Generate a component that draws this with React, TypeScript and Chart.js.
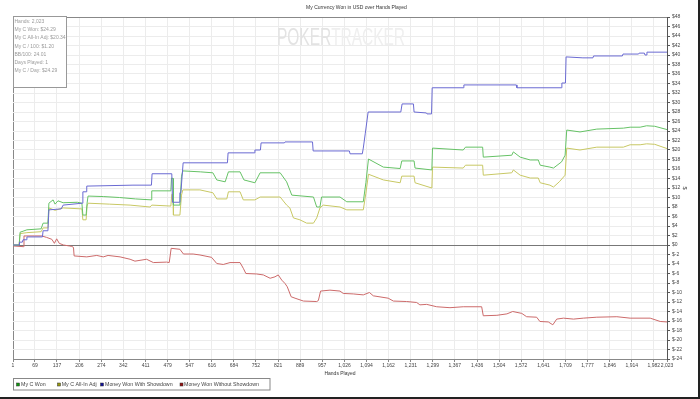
import React, { useEffect, useRef } from "react";
import { Chart, registerables } from "chart.js";

Chart.register(...registerables);

const FONT = "'Liberation Sans', Arial, sans-serif";

const TITLE = "My Currency Won in USD over Hands Played";
const X_TITLE = "Hands Played";
const Y_TITLE = "$";

const X_TICKS = [1, 69, 137, 206, 274, 342, 411, 479, 547, 616, 684, 752, 821, 889, 957, 1026, 1094, 1162, 1231, 1299, 1367, 1436, 1504, 1572, 1641, 1709, 1777, 1846, 1914, 1982, 2023];
const Y_TICKS = [48, 46, 44, 42, 40, 38, 36, 34, 32, 30, 28, 26, 24, 22, 20, 18, 16, 14, 12, 10, 8, 6, 4, 2, 0, -2, -4, -6, -8, -10, -12, -14, -16, -18, -20, -22, -24];

const SERIES_NAMES = ["My C Won", "My C All-In Adj", "Money Won With Showdown", "Money Won Without Showdown"];
const LINE_COLORS = ["#66c266", "#c8c864", "#6a6ad2", "#cc6a6a"];
const LEGEND_COLORS = ["#119911", "#999911", "#111199", "#991111"];

const INFO_LINES = [
  "Hands: 2,023",
  "My C Won: $24.29",
  "My C All-In Adj: $20.34",
  "My C / 100: $1.20",
  "BB/100: 24.01",
  "Days Played: 1",
  "My C / Day: $24.29",
];

// My C Won
const WON_X = [1, 20, 23, 32, 44, 88, 94, 109, 112, 125, 131, 140, 156, 200, 214, 217, 227, 230, 233, 280, 330, 380, 429, 430, 489, 491, 496, 497, 517, 522, 526, 580, 619, 631, 657, 667, 703, 715, 749, 765, 827, 847, 863, 930, 940, 950, 955, 1012, 1033, 1084, 1092, 1100, 1146, 1198, 1203, 1241, 1244, 1296, 1298, 1393, 1400, 1453, 1455, 1543, 1548, 1569, 1600, 1625, 1631, 1661, 1672, 1697, 1708, 1713, 1754, 1806, 1888, 1909, 1940, 1960, 1985, 2023];
const WON_Y = [0, 0, 2.7, 2.9, 3.2, 3.4, 4.6, 4.6, 8.8, 9.5, 8.6, 9.3, 8.9, 9.0, 8.8, 6.3, 6.3, 8.8, 10.3, 10.2, 10.0, 9.7, 9.5, 11.4, 11.4, 14.1, 14.0, 8.4, 8.4, 14.5, 15.6, 15.4, 15.2, 13.7, 13.3, 15.4, 15.4, 13.7, 13.1, 15.2, 15.2, 13.3, 10.5, 10.1, 8.0, 8.0, 10.1, 10.1, 9.1, 9.1, 13.1, 18.1, 16.4, 16.1, 17.7, 17.7, 16.2, 15.8, 20.4, 20.0, 20.6, 20.6, 18.5, 18.9, 19.6, 18.5, 17.9, 17.9, 16.8, 16.4, 16.2, 17.5, 18.9, 24.2, 23.8, 24.4, 24.6, 24.8, 24.8, 25.1, 25.0, 24.3];

// My C All-In Adj
const ADJ_X = [1, 20, 23, 44, 88, 94, 109, 112, 131, 156, 214, 217, 227, 230, 233, 300, 363, 425, 430, 489, 492, 496, 497, 517, 522, 526, 579, 619, 631, 662, 667, 703, 713, 749, 765, 827, 847, 857, 868, 888, 909, 930, 940, 950, 960, 1012, 1033, 1084, 1092, 1100, 1146, 1198, 1203, 1241, 1244, 1296, 1298, 1393, 1400, 1453, 1455, 1543, 1548, 1569, 1600, 1625, 1631, 1661, 1672, 1690, 1708, 1713, 1754, 1806, 1888, 1909, 1940, 1960, 1985, 2023];
const ADJ_Y = [0, 0, 2.4, 2.6, 2.8, 3.6, 3.6, 7.8, 7.3, 7.8, 7.6, 5.3, 5.3, 8.2, 8.8, 8.6, 8.4, 8.0, 8.4, 8.2, 10.7, 10.5, 6.3, 6.3, 10.5, 11.6, 11.6, 11.0, 9.7, 9.7, 11.2, 11.2, 9.5, 9.5, 10.1, 10.1, 8.4, 7.8, 5.7, 5.3, 4.6, 4.6, 5.7, 7.8, 8.4, 8.0, 7.4, 7.4, 10.9, 14.9, 13.7, 13.1, 14.5, 14.5, 13.1, 12.0, 16.4, 16.2, 16.8, 16.8, 14.7, 15.2, 15.8, 14.7, 14.1, 14.1, 13.1, 12.6, 12.2, 13.3, 14.7, 20.4, 20.0, 20.6, 20.6, 21.1, 21.1, 21.3, 21.2, 20.3];

// Money Won With Showdown
const SD_X = [1, 20, 21, 30, 32, 42, 44, 92, 94, 109, 112, 150, 156, 215, 217, 227, 229, 372, 429, 431, 492, 494, 515, 517, 520, 527, 664, 666, 747, 749, 766, 768, 840, 842, 927, 929, 1041, 1043, 1081, 1084, 1090, 1099, 1200, 1204, 1239, 1241, 1279, 1281, 1295, 1297, 1393, 1395, 1557, 1559, 1696, 1698, 1709, 1711, 1763, 1794, 1796, 1885, 1887, 1935, 1937, 1953, 1955, 1959, 1961, 2023];
const SD_Y = [0, 0, 0.6, 0.6, 1.1, 1.1, 1.7, 1.7, 3.0, 3.0, 7.4, 7.6, 8.4, 8.8, 11.2, 11.2, 12.4, 12.6, 12.6, 15.0, 15.0, 9.0, 9.0, 11.0, 11.0, 17.3, 17.3, 19.4, 19.4, 20.0, 20.0, 21.5, 21.5, 21.7, 21.7, 19.8, 19.8, 19.2, 19.2, 20.4, 23.4, 28.0, 28.0, 29.7, 29.7, 28.0, 27.8, 27.6, 27.6, 33.1, 33.1, 33.7, 33.7, 33.1, 33.1, 34.1, 34.1, 39.6, 39.4, 39.4, 39.8, 39.8, 40.2, 40.2, 40.4, 40.4, 40.0, 40.0, 40.6, 40.6];

// Money Won Without Showdown
const NSD_X = [1, 33, 35, 90, 105, 121, 129, 136, 144, 157, 175, 183, 188, 190, 229, 260, 280, 295, 332, 363, 378, 414, 435, 476, 484, 490, 517, 528, 558, 579, 615, 631, 651, 672, 703, 713, 721, 754, 775, 796, 811, 821, 832, 842, 849, 861, 873, 899, 940, 945, 952, 981, 1012, 1022, 1053, 1084, 1103, 1115, 1161, 1177, 1218, 1249, 1259, 1280, 1311, 1352, 1393, 1450, 1455, 1497, 1528, 1546, 1574, 1589, 1620, 1630, 1656, 1670, 1682, 1703, 1734, 1764, 1806, 1868, 1909, 1971, 2002, 2023];
const NSD_Y = [-0.2, -0.35, 1.9, 1.9, 1.6, 1.2, 0.35, 1.3, 0.35, 0.0, -0.2, -0.3, -0.5, -2.3, -2.5, -2.2, -2.5, -2.2, -2.5, -3.0, -3.4, -3.0, -3.7, -3.6, -3.7, -0.7, -0.9, -1.9, -1.9, -2.1, -2.6, -3.9, -4.1, -3.7, -3.7, -4.9, -6.0, -6.1, -6.3, -7.0, -6.7, -6.3, -7.4, -8.1, -8.8, -10.9, -11.2, -11.8, -11.9, -11.7, -9.7, -9.5, -9.7, -10.2, -10.3, -10.5, -10.0, -10.7, -11.2, -11.8, -11.9, -12.1, -12.6, -12.5, -13.0, -13.2, -13.0, -13.0, -14.9, -14.8, -14.5, -14.0, -14.4, -15.1, -15.2, -16.1, -16.2, -16.8, -15.6, -15.4, -15.6, -15.4, -15.2, -15.1, -15.4, -15.4, -16.1, -16.2];

const LEGEND_SQUARE_X = [16.5, 57.5, 100.5, 180];
const LEGEND_TEXT_X = [21, 61.7, 105, 184];

const overlay = {
  id: "overlay",
  beforeDatasetsDraw(chart: any) {
    const ctx = chart.ctx;
    ctx.save();
    ctx.font = `23px ${FONT}`;
    ctx.textBaseline = "alphabetic";
    ctx.textAlign = "left";
    const a = "POKER";
    const b = "TRACKER";
    const wa = ctx.measureText(a).width;
    const wb = ctx.measureText(b).width;
    const sx = 128 / (wa + wb);
    ctx.translate(277, 45);
    ctx.scale(sx, 1);
    ctx.fillStyle = "#e3e3e3";
    ctx.fillText(a, 0, 0);
    ctx.fillStyle = "#efefef";
    ctx.fillText(b, wa, 0);
    ctx.restore();
  },
  afterDraw(chart: any) {
    const ctx = chart.ctx;
    ctx.save();
    // info box
    ctx.fillStyle = "#ffffff";
    ctx.fillRect(13, 16, 54, 72);
    ctx.strokeStyle = "#999999";
    ctx.lineWidth = 1;
    ctx.strokeRect(13.5, 16.5, 53, 71);
    ctx.fillStyle = "#9a9a9a";
    ctx.font = `5px ${FONT}`;
    ctx.textBaseline = "middle";
    ctx.textAlign = "left";
    INFO_LINES.forEach((t, i) => ctx.fillText(t, 14.5, 21.7 + i * 8.2));
    // legend
    ctx.strokeStyle = "#888888";
    ctx.strokeRect(13.5, 378.5, 256.5, 11.5);
    ctx.font = `5.3px ${FONT}`;
    SERIES_NAMES.forEach((name, i) => {
      ctx.fillStyle = LEGEND_COLORS[i];
      ctx.fillRect(LEGEND_SQUARE_X[i], 383, 3, 3);
      ctx.strokeStyle = "#333";
      ctx.lineWidth = 0.5;
      ctx.strokeRect(LEGEND_SQUARE_X[i], 383, 3, 3);
      ctx.fillStyle = "#444";
      ctx.fillText(name, LEGEND_TEXT_X[i], 384.5);
    });
    // frame shadow
    ctx.fillStyle = "#222222";
    ctx.fillRect(698, 0, 2, 399);
    ctx.fillRect(0, 397, 700, 2);
    ctx.restore();
  },
};

export default function App() {
  const ref = useRef<HTMLCanvasElement>(null);
  useEffect(() => {
    document.body.style.margin = "0";
    const canvas = ref.current!;
    const mk = (xs: number[], ys: number[]) => xs.map((x, i) => ({ x, y: ys[i] }));
    const ds = (label: string, xs: number[], ys: number[], color: string) => ({
      label,
      data: mk(xs, ys),
      borderColor: color,
      backgroundColor: color,
      borderWidth: 1,
      pointRadius: 0,
      tension: 0,
      fill: false,
    });
    const chart = new Chart(canvas, {
      type: "line",
      data: {
        datasets: [
          ds(SERIES_NAMES[2], SD_X, SD_Y, LINE_COLORS[2]),
          ds(SERIES_NAMES[0], WON_X, WON_Y, LINE_COLORS[0]),
          ds(SERIES_NAMES[1], ADJ_X, ADJ_Y, LINE_COLORS[1]),
          ds(SERIES_NAMES[3], NSD_X, NSD_Y, LINE_COLORS[3]),
        ],
      },
      options: {
        responsive: false,
        animation: false,
        devicePixelRatio: 1,
        layout: { padding: { left: 13, right: 0, top: 0, bottom: 20 } },
        plugins: {
          legend: { display: false },
          tooltip: { enabled: false },
          title: {
            display: true,
            text: TITLE,
            color: "#333",
            font: { family: FONT, size: 5, weight: "normal", lineHeight: 1 },
            padding: { top: 5, bottom: 7 },
          },
        },
        scales: {
          x: {
            type: "linear",
            min: 1,
            max: 2023,
            afterBuildTicks: (s: any) => {
              s.ticks = X_TICKS.map((v) => ({ value: v }));
            },
            afterFit: (s: any) => {
              s.height = 20;
            },
            ticks: {
              autoSkip: false,
              maxRotation: 0,
              minRotation: 0,
              padding: 1,
              color: "#444",
              font: { family: FONT, size: 5 },
              callback: (v: any) => Number(v).toLocaleString("en-US"),
            },
            grid: {
              color: (c: any) => (c.tick && c.tick.value === 1 ? "#888888" : "#ececec"),
              tickColor: "#888888",
              tickLength: 3,
              lineWidth: 1,
            },
            border: { color: "#888888" },
            title: {
              display: true,
              text: X_TITLE,
              color: "#333",
              font: { family: FONT, size: 5, lineHeight: 1 },
              padding: { top: 0, bottom: 3 },
            },
          },
          y: {
            type: "linear",
            position: "right",
            min: -24,
            max: 48,
            afterBuildTicks: (s: any) => {
              s.ticks = Y_TICKS.map((v) => ({ value: v }));
            },
            afterFit: (s: any) => {
              s.width = 33;
            },
            ticks: {
              autoSkip: false,
              padding: 2,
              color: "#444",
              font: { family: FONT, size: 5 },
              callback: (v: any) => "$" + v,
            },
            grid: {
              color: (c: any) => {
                const v = c.tick ? c.tick.value : null;
                if (v === 0) return "#777777";
                if (v === 48) return "#888888";
                return "#ececec";
              },
              tickColor: "#555555",
              tickLength: 3,
              lineWidth: 1,
            },
            border: { color: "#555555" },
            title: {
              display: true,
              text: Y_TITLE,
              color: "#333",
              font: { family: FONT, size: 5.5, lineHeight: 1 },
              padding: { top: 12.5, bottom: 0 },
            },
          },
        },
      },
      plugins: [overlay],
    } as any);
    return () => chart.destroy();
  }, []);
  return (
    <div style={{ width: 700, height: 399, position: "relative" }}>
      <canvas ref={ref} width={700} height={399} style={{ display: "block", width: 700, height: 399 }} />
    </div>
  );
}
